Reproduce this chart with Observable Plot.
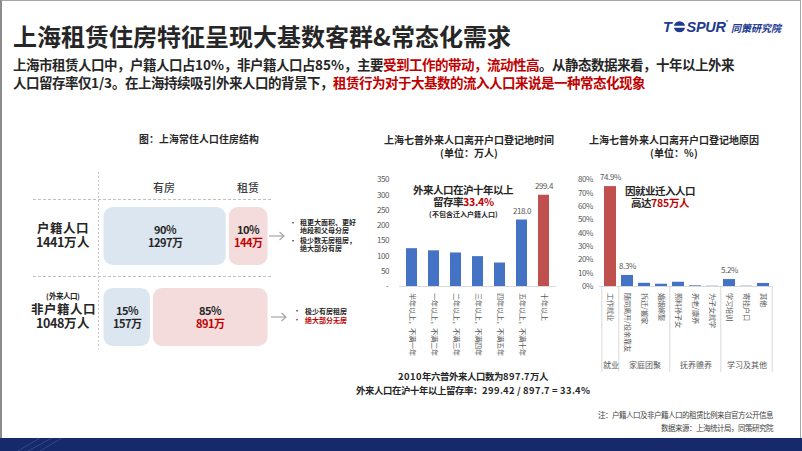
<!DOCTYPE html>
<html><head><meta charset="utf-8">
<script src="https://cdn.jsdelivr.net/npm/d3@7"></script>
<script src="https://cdn.jsdelivr.net/npm/@observablehq/plot@0.6"></script>
<style>
@font-face{font-family:"CJKT";src:local("Noto Sans CJK SC Bold"),local("NotoSansCJKsc-Bold"),local("Noto Sans CJK SC");font-weight:700;ascent-override:88%;descent-override:12%;line-gap-override:0%;font-display:block;}
@font-face{font-family:"CJKT";src:local("Noto Sans CJK SC Medium"),local("NotoSansCJKsc-Medium"),local("Noto Sans CJK SC");font-weight:500;ascent-override:88%;descent-override:12%;line-gap-override:0%;font-display:block;}
@font-face{font-family:"CJKT";src:local("Noto Sans CJK SC Regular"),local("NotoSansCJKsc-Regular"),local("Noto Sans CJK SC");font-weight:400;ascent-override:88%;descent-override:12%;line-gap-override:0%;font-display:block;}
html,body{margin:0;padding:0;background:#fff;}
#slide{position:relative;width:802px;height:451px;overflow:hidden;background:#fff;font-family:"CJKT","Noto Sans CJK SC","Noto Sans",sans-serif;color:#262626;}
#frame{position:absolute;left:0;top:0;width:801px;height:438px;border-left:2px solid #8c8c8c;border-top:1px solid #a6a6a6;border-right:1px solid #a6a6a6;box-sizing:border-box;}
.t{position:absolute;white-space:nowrap;}
.r{color:#c00000;}
.chart{position:absolute;}
#band{position:absolute;left:0;top:438px;width:802px;height:13px;background:#15296b;}
</style></head><body><div id="slide"><div id="frame"></div><div id="band"></div></div>
<script>
// ---------------- data ----------------
// Left diagram: housing structure of Shanghai residents
const rowKeys = ["户籍", "非户籍"];
const rowTotals = [1441, 1048];
const ownShares = [90, 15];
const rentShares = [10, 85];
const ownCounts = [1297, 157];
const rentCounts = [144, 891];

// Middle chart: time since leaving hukou registration place (万人)
const timeCats = ["半年以上，不满一年", "一年以上，不满二年", "二年以上，不满三年", "三年以上，不满四年", "四年以上，不满五年", "五年以上，不满十年", "十年以上"];
const timeVals = [124, 117, 110, 98, 77, 218.0, 299.4];
const timeLabeled = ["五年以上，不满十年", "十年以上"];
const timeHighlight = "十年以上";
const timeTicks = [0, 50, 100, 150, 200, 250, 300, 350];

// Right chart: reasons for leaving (%)
const reasonCats = ["工作就业", "随同离开/投亲靠友", "拆迁/搬家", "婚姻嫁娶", "照料孙子女", "养老/康养", "为子女就学", "学习培训", "寄挂户口", "其他"];
const reasonVals = [74.9, 8.3, 2.4, 1.7, 3.2, 0.5, 0.2, 5.2, 0.2, 2.3];
const reasonGroups = ["就业", "家庭团聚", "家庭团聚", "家庭团聚", "抚养赡养", "抚养赡养", "抚养赡养", "学习及其他", "学习及其他", "学习及其他"];
const groupNames = ["就业", "家庭团聚", "抚养赡养", "学习及其他"];
const reasonLabeled = ["工作就业", "随同离开/投亲靠友", "学习培训"];
const reasonHighlight = "工作就业";
const reasonTicks = [0, 10, 20, 30, 40, 50, 60, 70, 80];

// ---------------- styles ----------------
const BLUE = "#4472c4", RED = "#c0504d", TXTRED = "#c00000", DARK = "#262626", GREY = "#595959";
const OWNFILL = "#dce6f1", RENTFILL = "#f3dcdb";
const FONT = '"CJKT","Noto Sans CJK SC","Noto Sans",sans-serif';

const slide = document.getElementById("slide");
// text block centred vertically on y (multi-line via <br>, line height lh)
function T(html, x, y, o = {}) {
  const {size = 10, weight = 700, color = DARK, anchor = "middle", lh = size, style = ""} = o;
  const d = document.createElement("div");
  d.className = "t";
  d.innerHTML = html;
  const tx = anchor === "middle" ? "-50%" : anchor === "end" ? "-100%" : "0";
  const ta = anchor === "middle" ? "center" : anchor === "end" ? "right" : "left";
  d.style.cssText = `left:${x}px;top:${y}px;font-size:${size}px;line-height:${lh}px;font-weight:${weight};color:${color};text-align:${ta};transform:translate(${tx},-50%);${style}`;
  slide.appendChild(d);
  return d;
}
function place(el, x, y) {
  const w = document.createElement("div");
  w.className = "chart";
  w.style.left = x + "px"; w.style.top = y + "px";
  w.appendChild(el); slide.appendChild(w);
}

// ---------------- decorations (dashed guides, arrows) ----------------
const ns = "http://www.w3.org/2000/svg";
const deco = document.createElementNS(ns, "svg");
deco.setAttribute("width", 802); deco.setAttribute("height", 451);
deco.style.cssText = "position:absolute;left:0;top:0;";
deco.innerHTML = `
 <line x1="33" y1="199.5" x2="272" y2="199.5" stroke="#bfbfbf" stroke-dasharray="3 2"/>
 <line x1="33" y1="276.5" x2="272" y2="276.5" stroke="#bfbfbf" stroke-dasharray="3 2"/>
 <line x1="98.5" y1="172" x2="98.5" y2="349" stroke="#c8c8c8" stroke-dasharray="2 2"/>
 <line x1="269" y1="236" x2="284" y2="236" stroke="#a6a6a6" stroke-width="1.2"/>
 <polyline points="279.5,232 284,236 279.5,240" fill="none" stroke="#a6a6a6" stroke-width="1.2"/>
 <line x1="271" y1="317" x2="286" y2="317" stroke="#a6a6a6" stroke-width="1.2"/>
 <polyline points="281.5,313 286,317 281.5,321" fill="none" stroke="#a6a6a6" stroke-width="1.2"/>
 <g opacity="0.25" stroke="#8fa3d8" fill="none"><path d="M18 451 L40 438 M28 451 L52 438 M40 451 L62 438"/></g>
`;
slide.appendChild(deco);

// ---------------- header ----------------
T("上海租赁住房特征呈现大基数客群&amp;常态化需求", 13, 37, {size: 24, anchor: "start"});
T('上海市租赁人口中，户籍人口占10%，非户籍人口占85%，主要<span class="r">受到工作的带动，流动性高</span>。从静态数据来看，十年以上外来<br>人口留存率仅1/3。在上海持续吸引外来人口的背景下，<span class="r">租赁行为对于大基数的流入人口来说是一种常态化现象</span>', 13, 74, {size: 13.5, lh: 18, anchor: "start"});
// logo
T('<span style="font-family:\'Liberation Sans\',Arial,sans-serif;font-style:italic;font-weight:900;letter-spacing:-0.3px">T<svg width="13" height="12" viewBox="0 0 13 12" style="vertical-align:-1px;margin:0 1px"><circle cx="6.5" cy="6" r="5.6" fill="#1d3a8f"/><rect x="0.5" y="5" width="12" height="2" fill="#fff"/></svg>SPUR</span><sup style="font-size:4px;vertical-align:8px;color:#1d3a8f">®</sup> <span style="font-size:10px;font-style:italic">同策研究院</span>', 663, 25, {size: 14.5, anchor: "start", color: "#1d3a8f"});

// ---------------- left diagram ----------------
T("图：上海常住人口住房结构", 199, 140, {size: 9.8});
T("有房", 164, 187, {size: 11, weight: 500, color: "#404040"});
T("租赁", 248, 187, {size: 11, weight: 500, color: "#404040"});
T(`户籍人口<br>${rowTotals[0]}万人`, 63, 236, {size: 12.5, lh: 14});
T("(外来人口)", 63, 296.5, {size: 7.5});
T(`非户籍人口<br>${rowTotals[1]}万人`, 63, 317, {size: 12.5, lh: 14});

const housing = [];
rowKeys.forEach((r, i) => {
  housing.push({row: r, kind: "有房", share: ownShares[i], count: ownCounts[i]});
  housing.push({row: r, kind: "租赁", share: rentShares[i], count: rentCounts[i]});
});
const stackOpts = {y: "row", x: d => Math.sqrt(d.share), offset: "normalize"};
const left = Plot.plot({
  width: 300, height: 240, marginLeft: 102, marginRight: 31, marginTop: 77, marginBottom: 24,
  style: {fontFamily: FONT, background: "transparent", overflow: "visible"},
  x: {axis: null, domain: [0, 1]},
  y: {axis: null, domain: rowKeys, paddingInner: 0.284, paddingOuter: 0},
  color: {type: "identity"},
  marks: [
    Plot.barX(housing, Plot.stackX({...stackOpts, fill: d => d.kind === "有房" ? OWNFILL : RENTFILL, rx: 9, insetLeft: 1.5, insetRight: 1.5})),
    Plot.text(housing, Plot.stackX({...stackOpts, text: d => d.share + "%", dy: -6.5, fontSize: 11, fontWeight: "bold", fill: DARK})),
    Plot.text(housing, Plot.stackX({...stackOpts, text: d => d.count + "万", dy: 7, fontSize: 11, fontWeight: "bold", fill: d => d.kind === "租赁" ? TXTRED : DARK}))
  ]
});
place(left, 0, 130);

// bullets
const bl = {size: 7, lh: 8.5, anchor: "start"};
T("•", 290, 222.5, {size: 6, anchor: "start"});
T("租更大面积、更好<br>地段和父母分房", 300, 226.75, bl);
T("•", 290, 240.5, {size: 6, anchor: "start"});
T("极少数无房租房，<br>绝大部分有房", 300, 244.75, bl);
T(`•<br><span style="color:${TXTRED}">•</span>`, 294, 316, {size: 6, lh: 9, anchor: "start"});
T(`极少有房租房<br><span style="color:${TXTRED}">绝大部分无房</span>`, 305, 316, {size: 7, lh: 9, anchor: "start"});

// ---------------- middle chart ----------------
T("上海七普外来人口离开户口登记地时间<br>(单位：万人)", 469, 146.5, {size: 10, lh: 13});
const timeData = timeCats.map((c, i) => ({cat: c, v: timeVals[i]}));
const mid = Plot.plot({
  width: 205, height: 205, marginLeft: 38.8, marginRight: 9.2, marginTop: 9.3, marginBottom: 89,
  style: {fontFamily: FONT, background: "transparent", overflow: "visible", color: GREY},
  x: {domain: timeCats, paddingInner: 0.5, paddingOuter: 0.25, axis: null},
  y: {domain: [0, 350], axis: null},
  color: {type: "identity"},
  marks: [
    Plot.barY(timeData, {x: "cat", y: "v", fill: d => d.cat === timeHighlight ? RED : BLUE}),
    Plot.ruleY([0], {stroke: "#d9d9d9"}),
    Plot.text(timeData.filter(d => timeLabeled.includes(d.cat)), {x: "cat", y: "v", text: d => d.v.toFixed(1), dy: -9, fill: GREY, fontSize: 8}),
    Plot.axisY({ticks: timeTicks, tickSize: 0, tickPadding: 10, tickFormat: d => d === 0 ? "-" : d, label: null, fontSize: 8, fill: GREY}),
    Plot.axisX({tickRotate: 90, tickSize: 0, tickPadding: 6, label: null, fontSize: 7.2, fill: GREY})
  ]
});
place(mid, 360, 170);
T('外来人口在沪十年以上<br>留存率<span class="r">33.4%</span>', 463, 196, {size: 10.5, lh: 12});
T("(不包含迁入户籍人口)", 463, 213.5, {size: 7});
T("2010年六普外来人口数为897.7万人<br>外来人口在沪十年以上留存率：299.42 / 897.7 = 33.4%", 473, 384, {size: 9.4, lh: 14});

// ---------------- right chart ----------------
T("上海七普外来人口离开户口登记地原因<br>(单位：%)", 674, 146.5, {size: 10, lh: 13});
const reasonData = reasonCats.map((c, i) => ({cat: c, v: reasonVals[i], group: reasonGroups[i]}));
const groupData = groupNames.map(g => {
  const cats = reasonCats.filter((c, i) => reasonGroups[i] === g);
  return {name: g, first: cats[0], mid: cats[Math.floor(cats.length / 2)]};
});
const RW = 230, RML = 39.3, RMR = 17.3;
const rStep = (RW - RML - RMR) / reasonCats.length;
const right = Plot.plot({
  width: RW, height: 205, marginLeft: RML, marginRight: RMR, marginTop: 9.3, marginBottom: 89,
  style: {fontFamily: FONT, background: "transparent", overflow: "visible", color: GREY},
  x: {domain: reasonCats, paddingInner: 0.31, paddingOuter: 0.155, axis: null},
  y: {domain: [0, 80], axis: null},
  color: {type: "identity"},
  marks: [
    Plot.barY(reasonData, {x: "cat", y: "v", fill: d => d.cat === reasonHighlight ? RED : BLUE}),
    Plot.ruleY([0], {stroke: "#d9d9d9"}),
    Plot.ruleX(groupData, {x: "first", y1: 0, y2: 0, insetBottom: -86, dx: -rStep / 2, stroke: "#d9d9d9"}),
    Plot.ruleX([reasonCats[reasonCats.length - 1]], {x: d => d, y1: 0, y2: 0, insetBottom: -86, dx: rStep / 2, stroke: "#d9d9d9"}),
    Plot.text(reasonData.filter(d => reasonLabeled.includes(d.cat)), {x: "cat", y: "v", text: d => d.v.toFixed(1) + "%", dy: -9, fill: GREY, fontSize: 8}),
    Plot.text(groupData, {x: "mid", frameAnchor: "bottom", dy: 81, text: "name", fill: GREY, fontSize: 8}),
    Plot.axisY({ticks: reasonTicks, tickSize: 0, tickPadding: 7, tickFormat: d => d + "%", label: null, fontSize: 8, fill: GREY}),
    Plot.axisX({tickRotate: 90, tickSize: 0, tickPadding: 6, label: null, fontSize: 7.2, fill: GREY})
  ]
});
place(right, 560, 170);
T('因就业迁入人口<br>高达<span class="r">785万人</span>', 660, 197, {size: 10.5, lh: 12});

// ---------------- notes ----------------
T("注：户籍人口及非户籍人口的租赁比例来自官方公开信息<br>数据来源：上海统计局，同策研究院", 773, 421.5, {size: 7.5, lh: 13, weight: 400, color: "#404040", anchor: "end"});
</script></body></html>
